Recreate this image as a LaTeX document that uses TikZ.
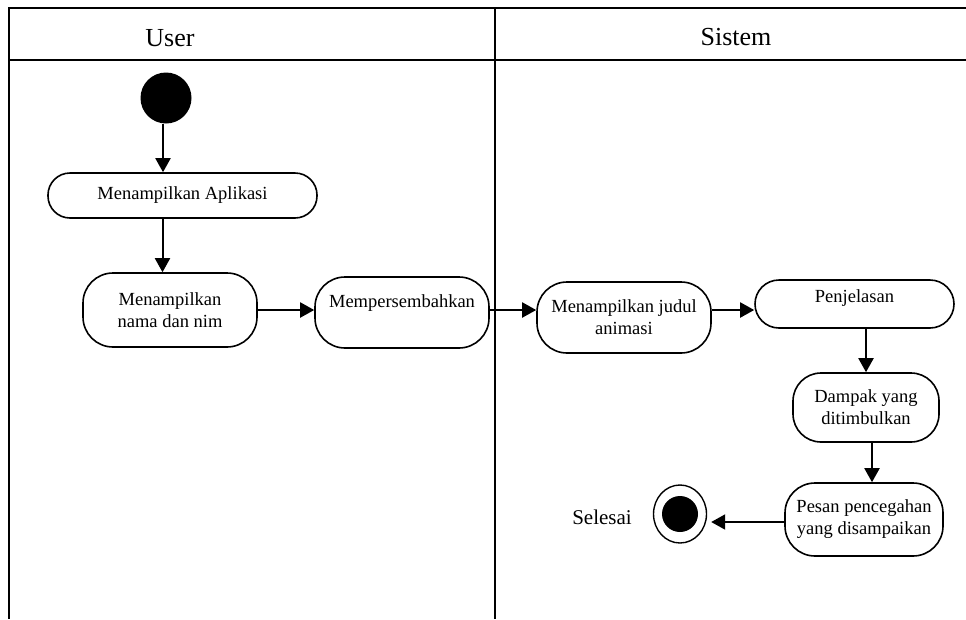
\documentclass[tikz,border=0pt]{standalone}
\usepackage{fontspec}
\setmainfont{Liberation Serif}
\usetikzlibrary{arrows.meta,shapes.geometric}
\begin{document}
\begin{tikzpicture}[x=1pt,y=-1pt,
  lane/.style={line width=2.2pt},
  act/.style={draw,line width=1.6pt,align=center,inner sep=0pt,
              font=\fontsize{18.5}{22}\selectfont},
  flow/.style={line width=2pt,-{Triangle[length=14pt,width=15pt]}},
  head/.style={font=\fontsize{26}{30}\selectfont,anchor=base}]
\useasboundingbox (0,0) rectangle (966,619);

% swimlane frame
\draw[lane] (9,8) -- (966,8);
\draw[lane] (9,60) -- (966,60);
\draw[lane] (9,7) -- (9,619);
\draw[lane] (495,7) -- (495,619);
\node[head] (huser) at (170,46) {User};
\node[head] (hsys) at (736,45.5) {Sistem};

% user lane
\node[circle,fill=black,minimum size=51pt,inner sep=0pt] (start) at (166,98) {};
\node[act,rounded corners=22pt,minimum width=269pt,minimum height=45pt]
  (app) at (182.5,195.5) {Menampilkan Aplikasi};
\node[act,rounded corners=30pt,minimum width=174pt,minimum height=74pt]
  (nama) at (170,310) {Menampilkan\\nama dan nim};
\node[act,rounded corners=30pt,minimum width=174pt,minimum height=71pt]
  (memp) at (402,312.5) {Mempersembahkan\\\mbox{}};

% system lane
\node[act,rounded corners=30pt,minimum width=174pt,minimum height=71pt]
  (judul) at (624,317.5) {Menampilkan judul\\animasi};
\node[act,rounded corners=24pt,minimum width=199pt,minimum height=48pt]
  (penj) at (854.5,304) {Penjelasan\\[-6pt]\mbox{}};
\node[act,rounded corners=28pt,minimum width=146pt,minimum height=69pt]
  (dampak) at (866,407.5) {Dampak yang\\ditimbulkan};
\node[act,rounded corners=30pt,minimum width=158pt,minimum height=73pt]
  (pesan) at (864,519.5) {Pesan pencegahan\\yang disampaikan};
\node[ellipse,draw,line width=1.4pt,minimum width=53pt,minimum height=58pt,inner sep=0pt]
  (endo) at (680,514) {};
\node[circle,fill=black,minimum size=36pt,inner sep=0pt] (endi) at (endo.center) {};
\node[font=\fontsize{21}{25}\selectfont] (sel) at (602,517) {Selesai};

% control flow
\draw[flow] ([xshift=-3pt]start.south) -- ([xshift=-3pt]start.south |- app.north);
\draw[flow] ([xshift=-20pt]app.south) -- ([xshift=-20pt]app.south |- nama.north);
\draw[flow] (nama.east) -- (nama.east -| memp.west);
\draw[flow] (memp.east |- nama.east) -- (judul.west |- nama.east);
\draw[flow] (judul.east |- nama.east) -- (penj.west |- nama.east);
\draw[flow] (dampak.north |- penj.south) -- (dampak.north);
\draw[flow] ([xshift=6pt]dampak.south) -- ([xshift=6pt]dampak.south |- pesan.north);
\draw[flow,shorten >=4pt] ([yshift=-2.5pt]pesan.west) -- ([yshift=-2.5pt]pesan.west -| endo.east);
\end{tikzpicture}
\end{document}
